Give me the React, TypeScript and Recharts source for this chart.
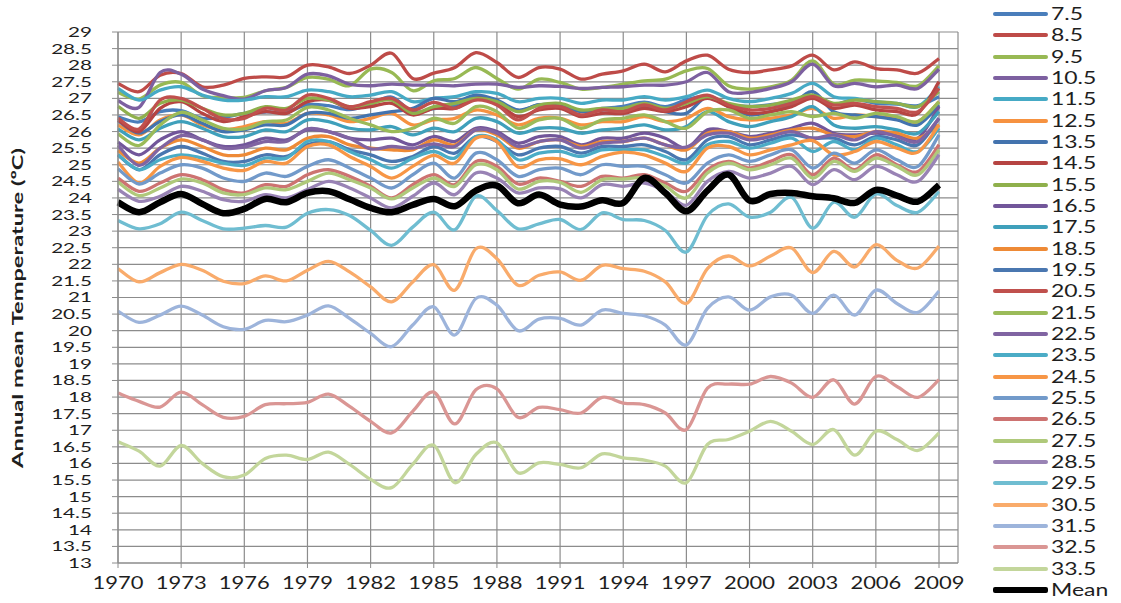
import React from 'react';
import { LineChart, Line, XAxis, YAxis, CartesianGrid } from 'recharts';

const years = [1970,1971,1972,1973,1974,1975,1976,1977,1978,1979,1980,1981,1982,1983,1984,1985,1986,1987,1988,1989,1990,1991,1992,1993,1994,1995,1996,1997,1998,1999,2000,2001,2002,2003,2004,2005,2006,2007,2008,2009];
const xTicks = [1970,1973,1976,1979,1982,1985,1988,1991,1994,1997,2000,2003,2006,2009];
const yTicks = [13,13.5,14,14.5,15,15.5,16,16.5,17,17.5,18,18.5,19,19.5,20,20.5,21,21.5,22,22.5,23,23.5,24,24.5,25,25.5,26,26.5,27,27.5,28,28.5,29];

const s7_5 = [26.44,26.29,26.6,26.63,26.4,26.43,26.55,26.59,26.59,26.81,26.78,26.66,26.82,27.04,26.59,26.69,26.79,27.07,26.89,26.62,26.81,26.78,26.61,26.7,26.76,26.89,26.75,26.96,27.06,26.81,26.76,26.81,26.89,27.08,26.82,26.97,26.85,26.83,26.78,27.05];
const s8_5 = [27.45,27.2,27.7,27.75,27.35,27.4,27.6,27.65,27.65,28.0,27.95,27.75,28.0,28.36,27.6,27.76,27.93,28.38,28.08,27.63,27.93,27.88,27.58,27.73,27.83,28.03,27.8,28.13,28.3,27.88,27.78,27.86,27.98,28.3,27.86,28.1,27.9,27.86,27.76,28.2];
const s9_5 = [27.18,26.98,27.4,27.48,27.08,27.03,27.03,27.23,27.33,27.63,27.58,27.38,27.88,27.78,27.23,27.53,27.6,27.93,27.6,27.28,27.58,27.48,27.28,27.33,27.43,27.53,27.58,27.83,27.9,27.38,27.28,27.35,27.55,28.13,27.43,27.55,27.53,27.48,27.38,27.98];
const s10_5 = [26.93,26.73,27.78,27.73,27.28,27.08,26.98,27.23,27.33,27.73,27.68,27.43,27.38,27.43,27.4,27.4,27.38,27.43,27.43,27.33,27.38,27.36,27.3,27.33,27.35,27.4,27.4,27.5,27.78,27.2,27.18,27.3,27.5,28.03,27.38,27.45,27.35,27.4,27.3,27.88];
const s11_5 = [27.3,26.95,27.25,27.35,27.1,26.95,26.95,27.05,27.05,27.25,27.2,27.05,27.1,27.2,26.9,27.0,27.05,27.2,27.15,26.9,27.0,27.0,26.85,26.95,26.95,27.05,26.95,27.05,27.25,27.0,26.9,27.0,27.15,27.45,27.05,27.0,26.9,26.85,26.75,27.35];
const s12_5 = [26.2,25.9,26.35,26.5,26.2,26.05,26.15,26.3,26.25,26.55,26.5,26.3,26.4,26.55,26.2,26.35,26.4,26.65,26.5,26.2,26.4,26.4,26.2,26.3,26.3,26.45,26.3,26.4,26.7,26.45,26.35,26.4,26.5,26.7,26.4,26.5,26.45,26.4,26.3,26.9];
const s13_5 = [26.33,25.95,26.3,26.5,26.25,26.0,26.05,26.2,26.2,26.55,26.55,26.4,26.5,26.6,26.7,27.0,26.9,27.1,26.95,26.65,26.8,26.8,26.6,26.65,26.65,26.75,26.6,26.55,27.05,26.75,26.5,26.6,26.8,27.2,26.6,26.5,26.45,26.35,26.2,26.8];
const s14_5 = [26.35,26.0,26.7,26.9,26.55,26.3,26.45,26.6,26.55,26.9,26.95,26.7,26.75,26.85,26.5,26.7,26.7,27.0,26.85,26.45,26.65,26.7,26.45,26.55,26.55,26.7,26.6,26.75,27.0,26.75,26.55,26.6,26.75,27.0,26.7,26.8,26.65,26.6,26.55,27.5];
const s15_5 = [26.76,26.4,26.85,26.95,26.7,26.5,26.55,26.75,26.7,27.0,26.95,26.75,26.85,26.95,26.55,26.75,26.85,27.0,26.9,26.6,26.8,26.85,26.65,26.7,26.7,26.85,26.7,26.85,27.05,26.85,26.75,26.8,26.95,27.1,26.85,26.95,26.9,26.85,26.75,27.2];
const s16_5 = [25.68,25.3,25.75,26.0,25.75,25.55,25.6,25.8,25.75,26.05,26.0,25.8,25.75,25.8,25.6,25.85,25.7,26.1,26.0,25.65,25.85,25.85,25.6,25.8,25.8,25.95,25.8,25.5,26.05,26.0,25.85,25.95,26.1,26.25,25.95,25.9,25.95,25.9,25.8,26.75];
const s17_5 = [26.08,25.75,26.1,26.3,26.1,25.85,25.85,26.05,26.0,26.35,26.3,26.1,26.05,26.15,25.9,26.1,26.0,26.4,26.3,25.95,26.1,26.1,25.95,26.05,26.1,26.2,26.05,26.15,26.6,26.3,26.15,26.3,26.45,26.75,26.2,26.1,26.15,26.05,25.95,26.6];
const s18_5 = [25.43,25.05,25.5,25.75,25.55,25.3,25.3,25.5,25.45,25.8,25.85,25.6,25.5,25.45,25.45,25.75,25.6,26.05,25.9,25.5,25.7,25.75,25.55,25.7,25.7,25.8,25.6,25.45,25.95,26.0,25.8,25.9,26.05,26.1,25.9,25.85,26.0,25.95,25.8,26.2];
const s19_5 = [25.3,24.85,25.3,25.55,25.35,25.1,25.1,25.3,25.25,25.6,25.7,25.45,25.3,25.1,25.25,25.55,25.35,25.85,25.7,25.3,25.5,25.55,25.35,25.55,25.55,25.6,25.4,25.15,25.75,25.85,25.6,25.75,25.9,25.8,25.8,25.6,25.85,25.75,25.6,26.4];
const s20_5 = [26.4,26.08,26.95,27.0,26.7,26.38,26.4,26.7,26.65,27.1,27.0,26.75,26.9,27.0,26.65,26.88,26.7,26.95,26.8,26.35,26.7,26.75,26.5,26.65,26.6,26.8,26.65,26.9,27.1,26.8,26.65,26.7,26.85,27.05,26.8,26.85,26.75,26.7,26.6,27.3];
const s21_5 = [25.93,25.58,26.2,26.58,26.35,26.1,26.08,26.3,26.35,26.73,26.65,26.4,26.2,26.0,26.1,26.4,26.25,26.75,26.6,26.1,26.35,26.4,26.1,26.35,26.4,26.5,26.3,26.1,26.6,26.65,26.4,26.5,26.6,26.45,26.55,26.4,26.55,26.45,26.3,26.9];
const s22_5 = [25.58,24.98,25.5,25.88,25.75,25.5,25.53,25.7,25.7,26.08,26.0,25.8,25.48,25.55,25.5,25.63,25.55,26.05,25.95,25.55,25.7,25.75,25.5,25.65,25.7,25.8,25.6,25.53,25.9,25.95,25.75,25.85,26.0,25.8,25.9,25.75,26.0,25.85,25.7,26.4];
const s23_5 = [25.3,24.85,25.15,25.3,25.2,25.05,24.98,25.2,25.2,25.7,25.7,25.4,25.15,24.9,25.2,25.4,25.2,25.85,25.75,25.15,25.35,25.4,25.25,25.45,25.45,25.45,25.25,25.05,25.6,25.7,25.5,25.65,25.8,25.4,25.7,25.45,25.8,25.6,25.4,26.1];
const s24_5 = [25.08,24.45,24.95,25.22,25.1,24.9,24.83,25.1,25.05,25.55,25.6,25.25,24.95,24.6,24.95,25.28,25.05,25.8,25.7,24.93,25.15,25.18,25.0,25.25,25.38,25.3,25.05,24.8,25.5,25.55,25.3,25.45,25.6,25.73,25.3,25.4,25.7,25.5,25.38,26.2];
const s25_5 = [24.88,24.42,24.75,25.0,24.9,24.6,24.5,24.75,24.65,24.95,25.15,24.9,24.6,24.3,24.7,25.05,24.6,25.35,25.15,24.65,24.85,24.9,24.7,25.0,24.95,24.95,24.7,24.45,25.05,25.3,25.1,25.3,25.45,24.9,25.35,25.05,25.45,25.15,24.95,25.9];
const s26_5 = [24.6,24.2,24.45,24.7,24.55,24.25,24.15,24.4,24.35,24.7,24.85,24.65,24.35,24.0,24.4,24.7,24.4,25.1,24.95,24.42,24.6,24.5,24.35,24.65,24.6,24.7,24.45,24.2,24.85,25.1,24.9,25.1,25.3,24.7,25.2,24.85,25.3,25.0,24.8,25.6];
const s27_5 = [24.48,24.07,24.3,24.57,24.45,24.15,24.1,24.3,24.25,24.5,24.75,24.55,24.3,23.97,24.3,24.6,24.35,25.0,24.85,24.27,24.5,24.47,24.17,24.55,24.57,24.6,24.35,24.0,24.75,25.05,24.85,25.0,25.2,24.6,25.1,24.8,25.2,24.95,24.7,25.45];
const s28_5 = [24.26,23.9,24.05,24.35,24.2,23.95,23.9,24.1,24.0,24.25,24.5,24.3,24.0,23.7,24.05,24.45,24.1,24.75,24.6,24.15,24.3,24.27,24.0,24.4,24.35,24.45,24.2,23.78,24.5,24.8,24.6,24.75,24.95,24.4,24.85,24.55,24.95,24.7,24.5,25.3];
const s29_5 = [23.32,23.07,23.22,23.57,23.32,23.07,23.09,23.17,23.12,23.54,23.65,23.47,23.02,22.57,23.12,23.57,23.04,24.05,23.62,23.07,23.22,23.35,23.05,23.55,23.35,23.32,23.02,22.37,23.47,23.82,23.42,23.57,24.02,23.09,23.87,23.42,24.12,23.77,23.57,24.19];
const s30_5 = [21.87,21.47,21.75,22.0,21.82,21.49,21.42,21.65,21.5,21.82,22.09,21.77,21.32,20.87,21.47,21.99,21.22,22.47,22.17,21.37,21.67,21.77,21.52,21.97,21.87,21.79,21.47,20.82,21.87,22.25,21.95,22.25,22.49,21.75,22.39,21.92,22.59,22.12,21.89,22.55];
const s31_5 = [20.59,20.25,20.47,20.74,20.47,20.12,20.04,20.31,20.27,20.47,20.75,20.37,19.92,19.52,20.17,20.72,19.87,20.97,20.77,20.0,20.35,20.37,20.17,20.62,20.52,20.45,20.17,19.57,20.67,21.02,20.62,21.02,21.07,20.52,21.07,20.47,21.22,20.82,20.55,21.19];
const s32_5 = [18.12,17.87,17.7,18.15,17.77,17.39,17.42,17.77,17.8,17.84,18.09,17.72,17.27,16.92,17.57,18.15,17.19,18.22,18.25,17.39,17.69,17.62,17.52,17.99,17.82,17.77,17.52,17.02,18.27,18.39,18.39,18.62,18.42,17.99,18.52,17.79,18.62,18.32,17.99,18.52];
const s33_5 = [16.65,16.37,15.92,16.54,16.0,15.6,15.65,16.15,16.25,16.12,16.34,15.97,15.52,15.27,15.97,16.55,15.42,16.27,16.62,15.72,16.02,15.97,15.87,16.29,16.17,16.1,15.92,15.42,16.57,16.72,16.97,17.27,16.97,16.57,17.02,16.25,16.97,16.72,16.39,16.92];
const meanT = [23.87,23.57,23.87,24.12,23.82,23.54,23.67,23.97,23.87,24.15,24.2,23.96,23.7,23.57,23.79,23.97,23.75,24.22,24.37,23.84,24.1,23.8,23.74,23.93,23.85,24.6,24.15,23.6,24.22,24.7,23.92,24.12,24.15,24.05,23.99,23.85,24.24,24.07,23.89,24.39];

const seriesNames = ['7.5','8.5','9.5','10.5','11.5','12.5','13.5','14.5','15.5','16.5','17.5','18.5','19.5','20.5','21.5','22.5','23.5','24.5','25.5','26.5','27.5','28.5','29.5','30.5','31.5','32.5','33.5','Mean'];
const seriesValues = [s7_5,s8_5,s9_5,s10_5,s11_5,s12_5,s13_5,s14_5,s15_5,s16_5,s17_5,s18_5,s19_5,s20_5,s21_5,s22_5,s23_5,s24_5,s25_5,s26_5,s27_5,s28_5,s29_5,s30_5,s31_5,s32_5,s33_5,meanT];
const seriesColors = ['#4A7EBB','#BE4B48','#98B954','#7D60A0','#46AAC5','#F69240','#4373AE','#B64442','#8FB04C','#72569A','#3FA0BB','#EE8A36','#4A77B0','#C0504D','#9BBB59','#8064A2','#4BACC6','#F79646','#729ACA','#CD7371','#AFC97A','#9983B5','#6FBDD1','#F9AB6B','#9DB4DB','#DA9694','#C3D69B','#000000'];

const data = years.map((y, i) => {
  const row: Record<string, number> = { year: y };
  seriesValues.forEach((vals, k) => { row['s' + k] = vals[i]; });
  return row;
});

// Excel-like smoothed line (Catmull-Rom style Bezier)
const excelSmooth = (context: any) => {
  let pts: number[][] = [];
  return {
    areaStart() {},
    areaEnd() {},
    lineStart() { pts = []; },
    point(x: number, y: number) { pts.push([+x, +y]); },
    lineEnd() {
      const n = pts.length;
      if (!n) return;
      context.moveTo(pts[0][0], pts[0][1]);
      for (let i = 0; i < n - 1; i++) {
        const p0 = pts[i - 1] || pts[i];
        const p1 = pts[i];
        const p2 = pts[i + 1];
        const p3 = pts[i + 2] || p2;
        context.bezierCurveTo(
          p1[0] + (p2[0] - p0[0]) / 6, p1[1] + (p2[1] - p0[1]) / 6,
          p2[0] - (p3[0] - p1[0]) / 6, p2[1] - (p3[1] - p1[1]) / 6,
          p2[0], p2[1]
        );
      }
    },
  };
};

const FONT = 'Lato, "Open Sans", sans-serif';
const TEXT = '#1e1e1e';

const YTick = (props: any) => {
  const { x, y, payload } = props;
  return (
    <g transform={`translate(${x},${y}) scale(1.5,1)`}>
      <text x={0} y={0} dy="0.36em" textAnchor="end" fontFamily={FONT} fontSize={13.8} fill={TEXT}>
        {String(payload.value)}
      </text>
    </g>
  );
};

const XTick = (props: any) => {
  const { x, y, payload } = props;
  return (
    <g transform={`translate(${x},${y}) scale(1.22,1)`}>
      <text x={0} y={7} dy="0.36em" textAnchor="middle" fontFamily={FONT} fontSize={18} fill={TEXT}>
        {String(payload.value)}
      </text>
    </g>
  );
};

export default function App() {
  const gridColor = '#8c8c8c';
  return (
    <div style={{ position: 'absolute', left: 0, top: 0, width: 1121, height: 603, background: '#ffffff', overflow: 'hidden' }}>
      <LineChart width={1121} height={603} data={data} margin={{ top: 32, right: 163, bottom: 0, left: 0 }}>
        <CartesianGrid stroke={gridColor} strokeWidth={1.2} vertical={true} horizontal={true} />
        <XAxis
          dataKey="year"
          type="number"
          domain={[1970, 2009]}
          ticks={xTicks}
          interval={0}
          height={40}
          padding={{ left: 0, right: 19 }}
          axisLine={{ stroke: gridColor, strokeWidth: 1.2 }}
          tickLine={{ stroke: gridColor }}
          tickSize={5}
          tickMargin={8}
          tick={<XTick />}
          allowDecimals={false}
        />
        <YAxis
          type="number"
          domain={[13, 29]}
          ticks={yTicks}
          interval={0}
          width={118}
          axisLine={{ stroke: gridColor, strokeWidth: 1.2 }}
          tickLine={{ stroke: gridColor }}
          tickSize={6}
          tickMargin={20}
          tick={<YTick />}
        />
        {seriesNames.map((name, k) => (
          <Line
            key={name}
            dataKey={'s' + k}
            name={name}
            type={excelSmooth as any}
            stroke={seriesColors[k]}
            strokeWidth={name === 'Mean' ? 6.5 : 3.3}
            dot={false}
            activeDot={false}
            isAnimationActive={false}
          />
        ))}
      </LineChart>
      <svg width={60} height={603} style={{ position: 'absolute', left: 0, top: 0 }}>
        <text
          transform="translate(23,308) rotate(-90)"
          textAnchor="middle"
          fontFamily={FONT}
          fontWeight="bold"
          fontSize={16}
          fill={TEXT}
          textLength={320}
          lengthAdjust="spacingAndGlyphs"
        >
          Annual mean Temperature (ºC)
        </text>
      </svg>
      {seriesNames.map((name, k) => (
        <div
          key={name}
          style={{ position: 'absolute', left: 993, top: 14 + k * 21.33 - 10, height: 20, display: 'flex', alignItems: 'center' }}
        >
          <div style={{ width: 55, height: name === 'Mean' ? 6 : 4, background: seriesColors[k], borderRadius: 2 }} />
          <span
            style={{ marginLeft: 3, fontFamily: FONT, fontSize: 17, lineHeight: '20px', color: TEXT, display: 'inline-block', transform: 'scaleX(1.35)', transformOrigin: 'left center', whiteSpace: 'nowrap' }}
          >
            {name}
          </span>
        </div>
      ))}
    </div>
  );
}
